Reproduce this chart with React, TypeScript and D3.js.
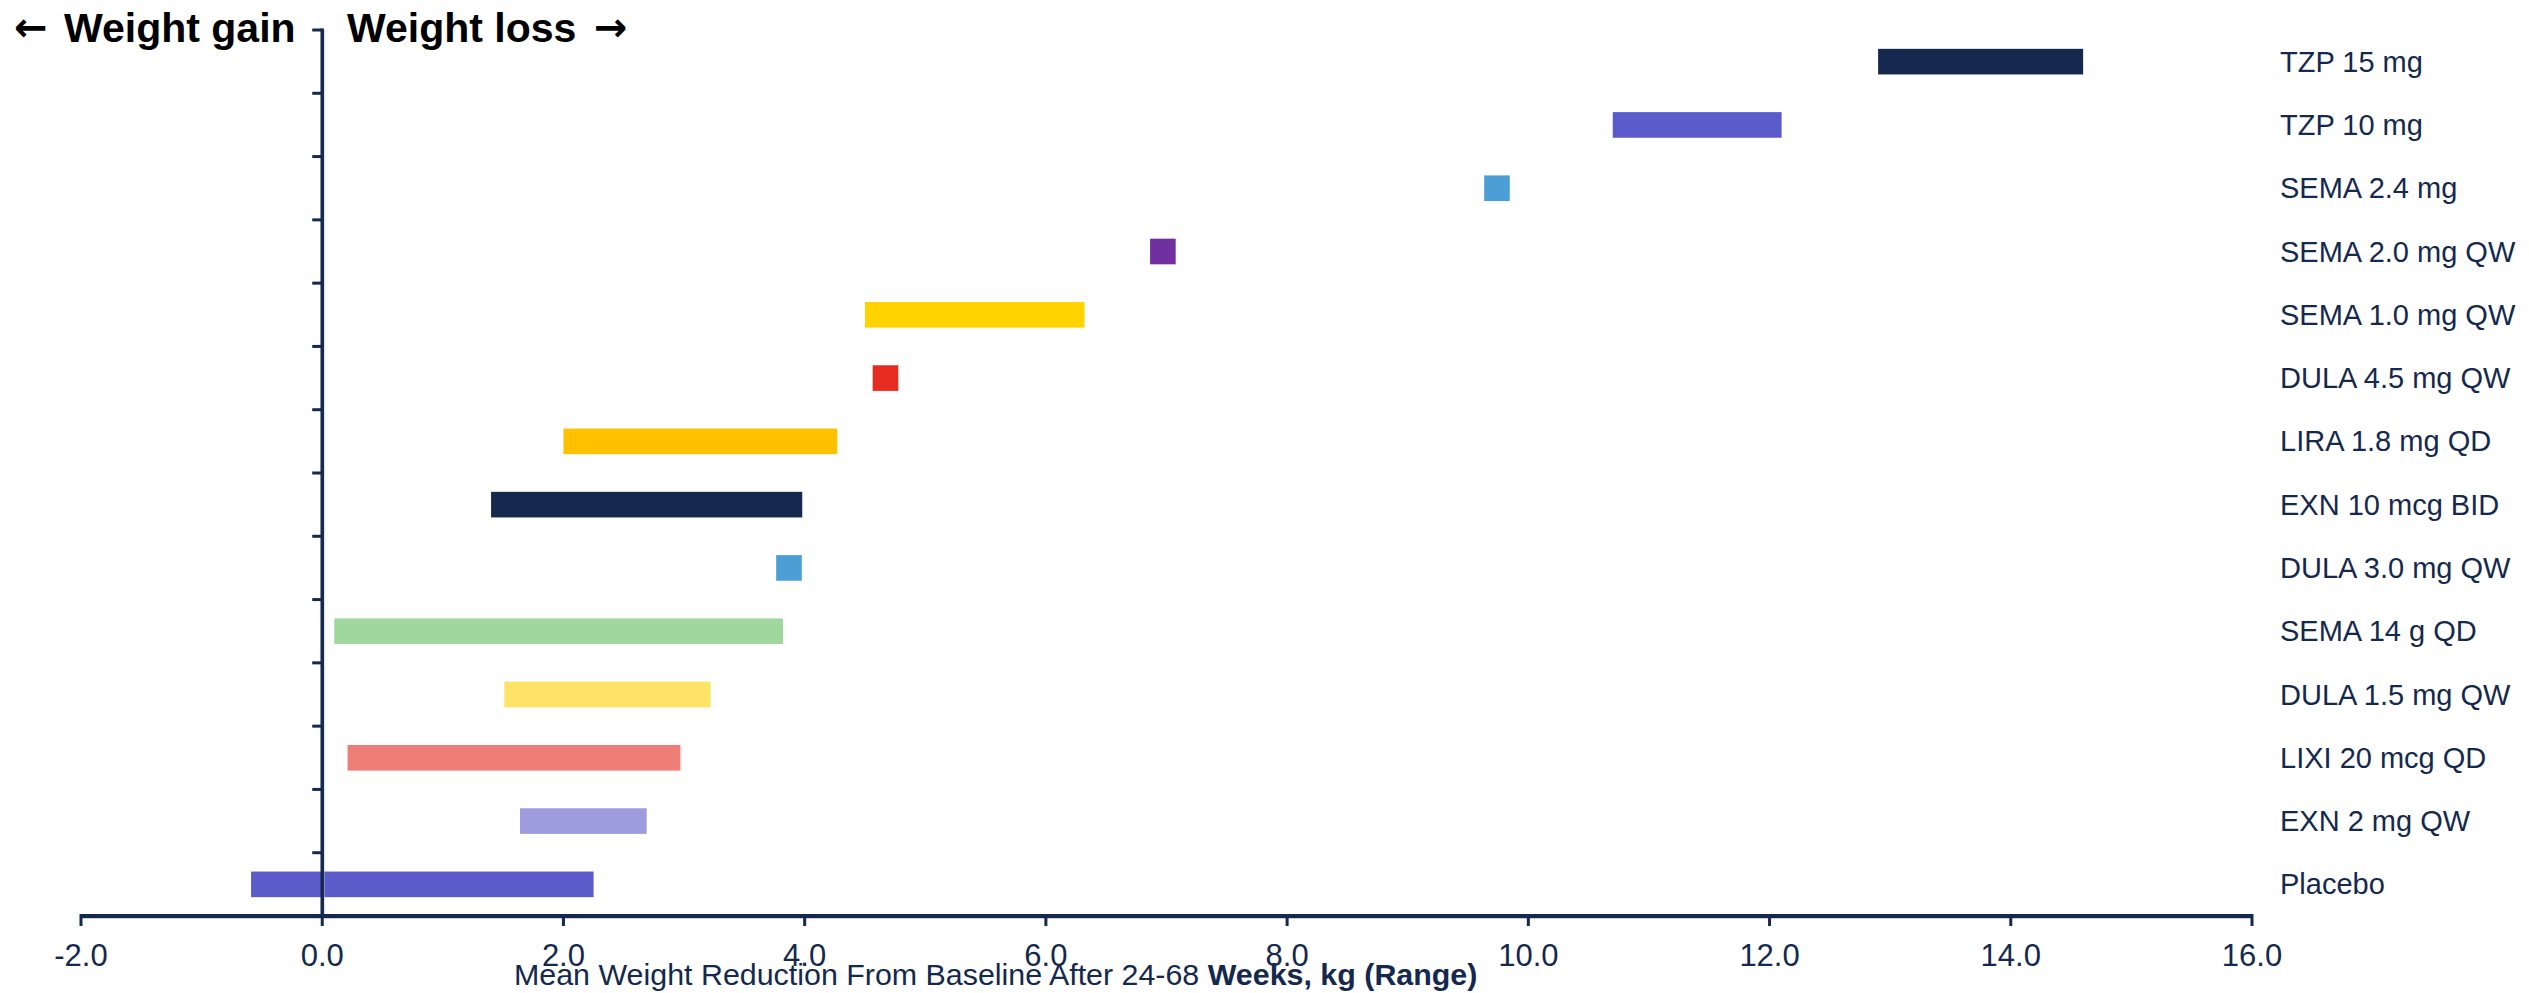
import React from "react";
import * as d3 from "d3";

const categories = [
  "TZP 15 mg",
  "TZP 10 mg",
  "SEMA 2.4 mg",
  "SEMA 2.0 mg QW",
  "SEMA 1.0 mg QW",
  "DULA 4.5 mg QW",
  "LIRA 1.8 mg QD",
  "EXN 10 mcg BID",
  "DULA 3.0 mg QW",
  "SEMA 14 g QD",
  "DULA 1.5 mg QW",
  "LIXI 20 mcg QD",
  "EXN 2 mg QW",
  "Placebo",
];
const lowValues = [12.9, 10.7, 9.74, 6.97, 4.5, 4.67, 2.0, 1.4, 3.87, 0.1, 1.51, 0.21, 1.64, -0.59];
const highValues = [14.6, 12.1, 9.74, 6.97, 6.32, 4.67, 4.27, 3.98, 3.87, 3.82, 3.22, 2.97, 2.69, 2.25];
const barColors = [
  "#14294D", "#5B5BCC", "#4B9FD5", "#7030A0", "#FFD200", "#E62B20", "#FFC000",
  "#14294D", "#4B9FD5", "#9FD79F", "#FFE366", "#EF7E78", "#9C9CDF", "#5B5BC9",
];
const xTicks = [-2, 0, 2, 4, 6, 8, 10, 12, 14, 16];
const xTickLabels = ["-2.0", "0.0", "2.0", "4.0", "6.0", "8.0", "10.0", "12.0", "14.0", "16.0"];

const W = 2529;
const H = 993;
const NAVY = "#14294D";
const FONT = "'Liberation Sans', Arial, sans-serif";

export default function App() {
  const x = d3.scaleLinear().domain([-2, 16]).range([81, 2252]);
  const y = d3.scaleBand<string>().domain(categories).range([30, 916]).padding(0);
  const bw = y.bandwidth();
  const barH = bw * 0.405;
  const x0 = x(0);
  const boundaries = d3.range(categories.length + 1).map((i) => 30 + i * bw);

  return (
    <svg
      width={W}
      height={H}
      style={{ position: "absolute", left: 0, top: 0, display: "block", background: "#fff" }}
    >
      {/* bars */}
      {categories.map((c, i) => {
        const cy = (y(c) as number) + bw / 2;
        const lo = lowValues[i];
        const hi = highValues[i];
        let x1 = x(lo);
        let x2 = x(hi);
        if (lo === hi) {
          x1 = x(lo) - barH / 2;
          x2 = x(lo) + barH / 2;
        }
        return (
          <rect key={c} x={x1} y={cy - barH / 2} width={x2 - x1} height={barH} fill={barColors[i]} />
        );
      })}

      {/* y axis */}
      <line x1={x0 + 1.5} x2={x0 + 1.5} y1={30} y2={918} stroke="#b8c0cc" strokeWidth={1.5} />
      <line x1={x0} x2={x0} y1={28.5} y2={918} stroke={NAVY} strokeWidth={3.5} />
      {boundaries.map((b, i) => (
        <line key={i} x1={x0 - 10} x2={x0} y1={b} y2={b} stroke={NAVY} strokeWidth={3} />
      ))}

      {/* x axis */}
      <line x1={x(-2)} x2={x(16)} y1={918} y2={918} stroke="#b8c0cc" strokeWidth={1.5} />
      <line x1={x(-2)} x2={x(16)} y1={916} y2={916} stroke={NAVY} strokeWidth={4} />
      {xTicks.map((t, i) => (
        <g key={t}>
          <line x1={x(t)} x2={x(t)} y1={914} y2={926} stroke={NAVY} strokeWidth={3} />
          <text x={x(t)} y={966} textAnchor="middle" fontFamily={FONT} fontSize={31} fill={NAVY}>
            {xTickLabels[i]}
          </text>
        </g>
      ))}

      {/* category labels */}
      {categories.map((c) => (
        <text
          key={c}
          x={2280}
          y={(y(c) as number) + bw / 2}
          dominantBaseline="central"
          fontFamily={FONT}
          fontSize={29}
          fill={NAVY}
        >
          {c}
        </text>
      ))}

      {/* axis title */}
      <text x={514} y={985} fontFamily={FONT} fontSize={30.4} fill={NAVY}>
        <tspan>Mean Weight Reduction From Baseline After 24-68 </tspan>
        <tspan fontWeight="bold">Weeks, kg (Range)</tspan>
      </text>

      {/* header */}
      <text x={14} y={41} fontFamily="'DejaVu Sans', sans-serif" fontWeight="bold" fontSize={40} fill="#000">
        ←
      </text>
      <text x={64} y={42} fontFamily={FONT} fontWeight="bold" fontSize={41} fill="#000">
        Weight gain
      </text>
      <text x={347} y={42} fontFamily={FONT} fontWeight="bold" fontSize={41} fill="#000">
        Weight loss
      </text>
      <text x={594} y={41} fontFamily="'DejaVu Sans', sans-serif" fontWeight="bold" fontSize={40} fill="#000">
        →
      </text>
    </svg>
  );
}
